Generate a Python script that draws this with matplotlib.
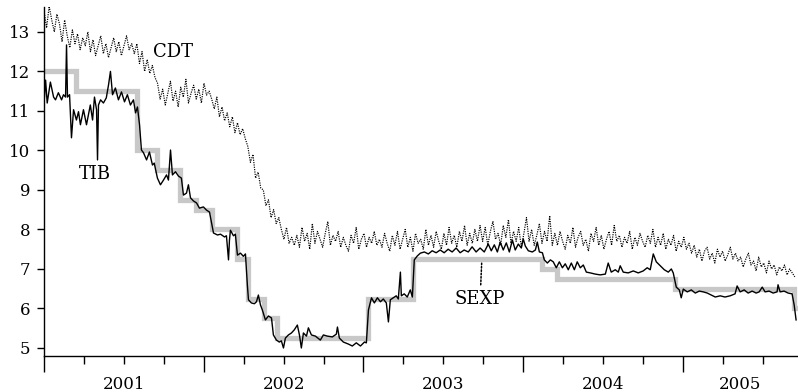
import numpy as np
import matplotlib
matplotlib.use("Agg")
from matplotlib import pyplot as plt
from matplotlib.ticker import MultipleLocator

plt.rcParams['font.family'] = ['DejaVu Serif']

# tasa de intervencion (escalones)
sexp_dates = [2001.0, 2001.20, 2001.58, 2001.71, 2001.854, 2001.954, 2002.053, 2002.21,
              2002.28, 2002.375, 2002.46, 2003.03, 2003.31, 2004.12, 2004.21, 2004.95,
              2005.695, 2005.715]
sexp_rate = [12.0, 11.5, 10.0, 9.5, 8.75, 8.5, 8.0, 7.25,
             6.25, 5.75, 5.25, 6.25, 7.25, 7.0, 6.75, 6.5,
             6.0, 6.0]

# TIB (diaria)
tib_dates = [2001.003, 2001.01, 2001.02, 2001.04, 2001.06, 2001.072, 2001.09, 2001.11, 2001.122, 2001.135,
             2001.141, 2001.147, 2001.16, 2001.172, 2001.185, 2001.203, 2001.216, 2001.228, 2001.247, 2001.266,
             2001.278, 2001.29, 2001.304, 2001.316, 2001.329, 2001.335, 2001.341, 2001.354, 2001.372, 2001.39,
             2001.404, 2001.416, 2001.429, 2001.447, 2001.466, 2001.485, 2001.504, 2001.522, 2001.541, 2001.56,
             2001.573, 2001.585, 2001.598, 2001.61, 2001.623, 2001.642, 2001.66, 2001.679, 2001.69, 2001.71,
             2001.729, 2001.748, 2001.767, 2001.779, 2001.792, 2001.804, 2001.823, 2001.842, 2001.86, 2001.873,
             2001.892, 2001.904, 2001.917, 2001.936, 2001.955, 2001.973, 2001.998, 2002.017, 2002.036, 2002.048,
             2002.061, 2002.086, 2002.105, 2002.13, 2002.142, 2002.155, 2002.161, 2002.167, 2002.186, 2002.198,
             2002.211, 2002.23, 2002.248, 2002.261, 2002.273, 2002.28, 2002.298, 2002.317, 2002.33, 2002.342,
             2002.355, 2002.367, 2002.386, 2002.405, 2002.424, 2002.436, 2002.455, 2002.473, 2002.486, 2002.499,
             2002.511, 2002.53, 2002.549, 2002.567, 2002.586, 2002.599, 2002.611, 2002.624, 2002.643, 2002.655,
             2002.674, 2002.699, 2002.73, 2002.749, 2002.774, 2002.805, 2002.83, 2002.837, 2002.849, 2002.874,
             2002.905, 2002.93, 2002.955, 2002.981, 2003.006, 2003.018, 2003.031, 2003.05, 2003.068, 2003.087,
             2003.106, 2003.124, 2003.143, 2003.156, 2003.168, 2003.187, 2003.205, 2003.218, 2003.231, 2003.237,
             2003.255, 2003.274, 2003.293, 2003.306, 2003.318, 2003.337, 2003.356, 2003.381, 2003.406, 2003.43,
             2003.455, 2003.48, 2003.505, 2003.53, 2003.555, 2003.58, 2003.605, 2003.63, 2003.656, 2003.68,
             2003.705, 2003.73, 2003.756, 2003.781, 2003.80, 2003.819, 2003.838, 2003.856, 2003.875, 2003.894,
             2003.913, 2003.932, 2003.95, 2003.969, 2003.988, 2004.0, 2004.013, 2004.032, 2004.057, 2004.076,
             2004.088, 2004.101, 2004.12, 2004.132, 2004.151, 2004.17, 2004.188, 2004.207, 2004.226, 2004.245,
             2004.263, 2004.282, 2004.301, 2004.32, 2004.338, 2004.357, 2004.376, 2004.395, 2004.42, 2004.451,
             2004.482, 2004.514, 2004.532, 2004.551, 2004.576, 2004.595, 2004.607, 2004.626, 2004.657, 2004.689,
             2004.72, 2004.751, 2004.776, 2004.795, 2004.814, 2004.833, 2004.858, 2004.883, 2004.908, 2004.927,
             2004.939, 2004.958, 2004.977, 2004.989, 2005.002, 2005.027, 2005.052, 2005.077, 2005.102, 2005.127,
             2005.152, 2005.177, 2005.202, 2005.233, 2005.263, 2005.295, 2005.326, 2005.339, 2005.358, 2005.383,
             2005.408, 2005.433, 2005.458, 2005.477, 2005.496, 2005.514, 2005.539, 2005.564, 2005.589, 2005.595,
             2005.608, 2005.633, 2005.658, 2005.683, 2005.696, 2005.708]
tib_rate = [11.35, 11.78, 11.2, 11.73, 11.35, 11.28, 11.46, 11.28, 11.41, 11.35,
            12.67, 11.35, 11.41, 10.32, 11.03, 10.77, 10.98, 10.65, 11.03, 10.65,
            10.90, 11.15, 10.77, 11.35, 11.03, 9.76, 11.15, 11.28, 11.2, 11.33,
            11.66, 12.0, 11.41, 11.58, 11.28, 11.48, 11.23, 11.41, 11.15, 11.28,
            10.95, 11.1, 10.65, 10.01, 9.94, 9.76, 9.96, 9.63, 9.68, 9.3,
            9.13, 9.25, 9.38, 9.25, 10.01, 9.38, 9.46, 9.35, 9.3, 8.87,
            8.92, 9.13, 8.8, 8.72, 8.67, 8.54, 8.57, 8.49, 8.44, 8.19,
            7.91, 7.86, 7.88, 7.81, 7.84, 7.23, 7.73, 7.98, 7.84, 7.88,
            7.35, 7.4, 7.32, 7.38, 6.6, 6.22, 6.14, 6.12, 6.17, 6.34,
            6.09, 5.96, 5.71, 5.81, 5.76, 5.33, 5.20, 5.15, 5.18, 5.0,
            5.25, 5.33, 5.38, 5.46, 5.58, 5.33, 5.0, 5.38, 5.30, 5.51,
            5.33, 5.30, 5.20, 5.33, 5.30, 5.28, 5.35, 5.53, 5.25, 5.15,
            5.10, 5.05, 5.13, 5.05, 5.15, 5.13, 5.96, 6.27, 6.14, 6.27,
            6.17, 6.24, 6.14, 5.66, 6.22, 6.27, 6.32, 6.24, 6.92, 6.32,
            6.37, 6.29, 6.47, 6.29, 7.23, 7.33, 7.40, 7.43, 7.38, 7.46,
            7.41, 7.48, 7.41, 7.50, 7.43, 7.53, 7.41, 7.48, 7.43, 7.56,
            7.43, 7.53, 7.43, 7.63, 7.46, 7.61, 7.43, 7.68, 7.48, 7.66,
            7.43, 7.73, 7.48, 7.63, 7.53, 7.76, 7.58, 7.46, 7.43, 7.48,
            7.68, 7.43, 7.41, 7.23, 7.15, 7.23, 7.18, 7.03, 7.18, 7.03,
            7.13, 6.98, 7.15, 6.98, 7.18, 7.03, 7.10, 6.92, 6.90, 6.87,
            6.85, 6.87, 7.15, 6.92, 6.98, 6.92, 7.08, 6.92, 6.90, 6.95,
            6.90, 6.95, 7.03, 6.98, 7.38, 7.18, 7.08, 6.98, 6.92, 7.0,
            6.90, 6.54, 6.47, 6.27, 6.49, 6.42, 6.47, 6.39, 6.44, 6.42,
            6.39, 6.34, 6.29, 6.32, 6.29, 6.32, 6.37, 6.57, 6.42, 6.47,
            6.39, 6.44, 6.39, 6.42, 6.54, 6.42, 6.44, 6.39, 6.42, 6.6,
            6.42, 6.44, 6.39, 6.37, 6.09, 5.71]

# CDT (paso aprox. de 6 dias)
cdt_rate = [13.55, 13.1, 13.65, 13.3, 13.0, 13.45,
            13.2, 12.75, 13.3, 12.9, 12.6, 13.05, 12.7, 12.95, 12.55, 12.85, 12.65, 13.0,
            12.5, 12.8, 12.4, 12.65, 12.9, 12.45, 12.7, 12.35, 12.6, 12.85, 12.5, 12.75,
            12.4, 12.65, 12.9, 12.55, 12.7,
            12.45, 12.7, 12.2, 12.5, 12.0, 12.3, 11.95, 12.15, 11.85,
            11.7, 11.3, 11.55, 11.15, 11.45, 11.75, 11.25, 11.5, 11.1, 11.6, 11.35, 11.8,
            11.2, 11.45, 11.65, 11.3, 11.55, 11.2, 11.7, 11.4, 11.5,
            11.3, 11.05, 11.35, 10.85, 11.1, 10.75, 10.95, 10.6, 10.85, 10.45, 10.7, 10.4,
            10.55, 10.3,
            10.1, 9.7, 9.9, 9.3, 9.45, 9.05,
            9.0, 8.6, 8.75, 8.3, 8.5, 8.15, 8.3,
            8.0, 7.75, 8.05, 7.65, 7.8, 7.6,
            7.85, 7.55, 8.05, 7.7, 7.9, 7.5, 8.15, 7.65, 7.95, 7.75, 7.55, 7.9, 8.2, 7.6,
            7.85, 7.7, 7.95, 7.55, 7.8, 7.6, 7.45, 7.85, 7.65, 8.05, 7.5, 7.75, 7.9, 7.55,
            7.8, 7.65, 7.95, 7.6, 7.75,
            7.55, 7.9, 7.65, 7.45, 7.85, 7.6, 7.95, 7.5, 7.75, 8.0, 7.55, 7.8, 7.45, 7.9,
            7.65, 7.75, 7.5, 8.0, 7.6, 7.85, 7.55, 7.95, 7.7, 7.5, 7.9, 7.6, 8.05, 7.65,
            7.85, 7.55, 7.95, 7.7, 8.1, 7.6, 7.9, 7.65, 8.0, 7.7, 8.1,
            7.7, 8.05, 7.6, 7.95, 8.2, 7.75, 7.9, 7.6, 8.1, 7.8, 8.25, 7.65, 7.95, 7.7,
            8.05, 7.55, 7.9, 8.3, 7.7, 8.0, 7.6, 7.85, 8.15, 7.65, 7.95, 7.7, 8.35, 7.6, 7.9,
            7.6, 7.95, 7.7, 7.5, 7.85, 7.65, 8.05, 7.55, 7.8, 7.95, 7.6, 7.75, 7.45, 7.9,
            7.7, 8.05, 7.6, 7.85, 7.5, 7.75, 7.95, 7.6, 8.1, 7.7, 7.85, 7.55, 7.8, 7.65,
            7.95, 7.5, 7.8, 7.6, 7.9, 7.7, 7.55, 7.85, 7.65, 8.0, 7.55, 7.8, 7.6, 7.9,
            7.5, 7.75, 7.6, 7.85, 7.45, 7.7, 7.55, 7.8, 7.5, 7.65,
            7.4, 7.6, 7.3, 7.5, 7.2, 7.45, 7.55, 7.25, 7.4, 7.15, 7.5, 7.3, 7.45, 7.2,
            7.35, 7.55, 7.25, 7.4, 7.2,
            7.3, 7.05, 7.25, 7.4, 7.1, 7.2, 6.95, 7.3, 7.05, 7.15, 6.9, 7.2, 7.0, 7.1,
            6.85, 7.05, 6.95, 7.1, 6.85, 7.0, 6.9, 6.8]
cdt_dates = np.linspace(2001.0, 2005.70, len(cdt_rate))

years = [2001, 2002, 2003, 2004, 2005]
x_min, x_max = 2001.0, 2005.72

fig = plt.figure(figsize=(7.98, 3.92), dpi=100)
ax = fig.add_axes([44 / 798, 36 / 392, 754 / 798, 349 / 392])

ax.plot(sexp_dates, sexp_rate, drawstyle='steps-post', color='#c8c8c8', lw=3.8,
        solid_joinstyle='miter', zorder=1)
ax.plot(tib_dates, tib_rate, color='black', lw=1.0, zorder=3)
ax.plot(cdt_dates, cdt_rate, color='black', lw=0.85, linestyle=(0, (1.0, 1.0)), zorder=2)

ax.text(2001.81, 12.49, 'CDT', fontsize=13, ha='center', va='center')
ax.text(2001.316, 9.41, 'TIB', fontsize=13, ha='center', va='center')
ax.annotate('SEXP', xy=(2003.74, 7.17), xytext=(2003.73, 6.23), fontsize=13,
            ha='center', va='center',
            arrowprops=dict(arrowstyle='-', linestyle=(0, (1, 1.2)), lw=1.1,
                            color='black', shrinkA=2, shrinkB=0))

ax.set_xlim(x_min, x_max)
ax.set_ylim(4.797, 13.63)

ax.spines['top'].set_visible(False)
ax.spines['right'].set_visible(False)
ax.spines['left'].set_linewidth(1.0)
ax.spines['bottom'].set_linewidth(1.0)

ax.set_yticks(range(5, 14))
ax.tick_params(axis='y', direction='out', length=5, width=1.0, pad=5, labelsize=12)

ax.set_xticks(years)
ax.xaxis.set_minor_locator(MultipleLocator(0.25))
ax.set_xticklabels([])
ax.tick_params(axis='x', which='major', direction='out', length=11.5, width=1.0)
ax.tick_params(axis='x', which='minor', direction='out', length=5.8, width=1.0)

# etiquetas de anio centradas en la parte visible de cada anio
for y in years:
    mid = (max(y, x_min) + min(y + 1, x_max)) / 2
    ax.text(mid, -0.058, str(y), transform=ax.get_xaxis_transform(),
            ha='center', va='top', fontsize=12)

fig.savefig('out.png', dpi=100)
